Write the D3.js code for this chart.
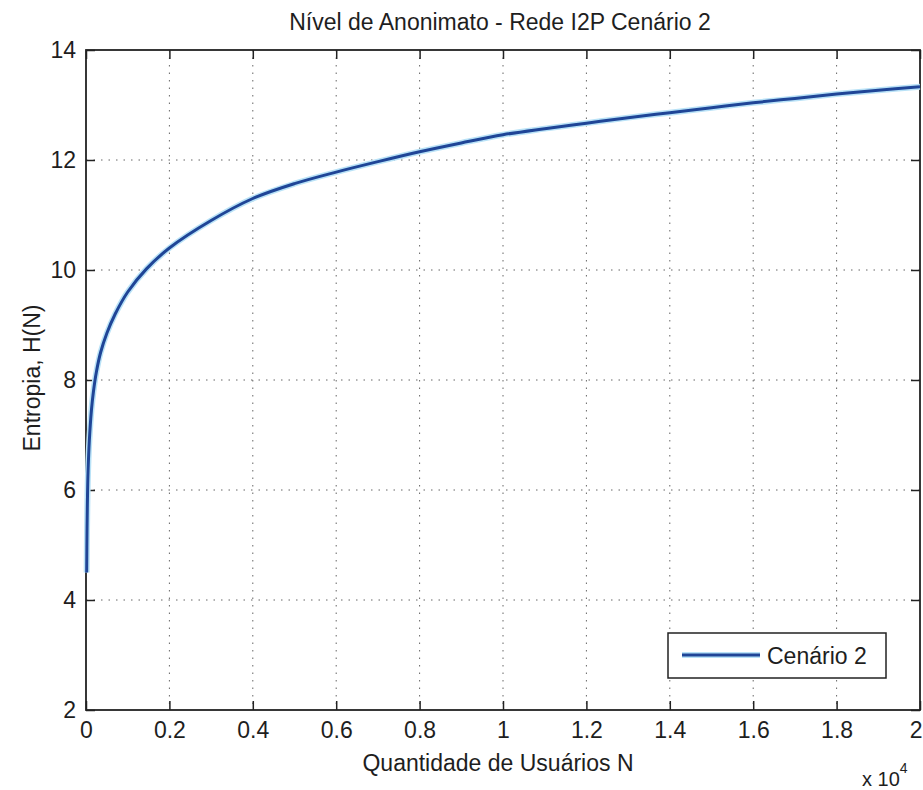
<!DOCTYPE html>
<html>
<head>
<meta charset="utf-8">
<script src="https://cdn.jsdelivr.net/npm/d3@7/dist/d3.min.js"></script>
<style>
  html, body { margin: 0; padding: 0; background: #fff; }
  svg text { font-family: "Liberation Sans", Arial, sans-serif; fill: #1e1e1e; }
</style>
</head>
<body>
<svg id="chart" width="923" height="790"></svg>
<script>
// ---- data ----
const usersN = [16, 25, 35, 50, 80, 130, 180, 250, 350, 500, 700, 1000, 1450, 2000, 3000, 4000, 5000, 6000, 7000, 8000, 9000, 10000, 11000, 12000, 13000, 14000, 15000, 16000, 17000, 18000, 19000, 20000];
const entropyH = [4.5, 5.3, 5.85, 6.35, 6.9, 7.45, 7.8, 8.15, 8.5, 8.85, 9.2, 9.6, 10.02, 10.4, 10.9, 11.3, 11.57, 11.78, 11.97, 12.15, 12.31, 12.46, 12.57, 12.67, 12.77, 12.86, 12.95, 13.04, 13.12, 13.2, 13.27, 13.33];
const xTickValues = [0, 2000, 4000, 6000, 8000, 10000, 12000, 14000, 16000, 18000, 20000];
const xTickLabels = ["0", "0.2", "0.4", "0.6", "0.8", "1", "1.2", "1.4", "1.6", "1.8", "2"];
const yTickValues = [2, 4, 6, 8, 10, 12, 14];
const seriesName = "Cenário 2";
const titleText = "Nível de Anonimato - Rede I2P Cenário 2";
const xLabelText = "Quantidade de Usuários N";
const yLabelText = "Entropia, H(N)";

// ---- layout ----
const L = 86, R = 920, T = 50, B = 710;
const svg = d3.select("#chart");
const x = d3.scaleLinear().domain([0, 20000]).range([L, R]);
const y = d3.scaleLinear().domain([2, 14]).range([B, T]);

// grid
const grid = svg.append("g").attr("stroke", "#666").attr("stroke-width", 1)
  .attr("stroke-dasharray", "1.5,6");
grid.selectAll("line.gx").data(xTickValues.slice(1, -1)).join("line")
  .attr("x1", d => x(d)).attr("x2", d => x(d)).attr("y1", T).attr("y2", B);
grid.selectAll("line.gy").data(yTickValues.slice(1, -1)).join("line")
  .attr("y1", d => y(d)).attr("y2", d => y(d)).attr("x1", L).attr("x2", R);

// axes
const fontSize = 23;
const xAxis = d3.axisBottom(x).tickValues(xTickValues)
  .tickFormat((d, i) => xTickLabels[i]).tickSizeInner(-9).tickSizeOuter(0).tickPadding(14);
const gx = svg.append("g").attr("transform", `translate(0,${B})`).call(xAxis);
const yAxis = d3.axisLeft(y).tickValues(yTickValues).tickSizeInner(-9).tickSizeOuter(0).tickPadding(10);
const gy = svg.append("g").attr("transform", `translate(${L},0)`).call(yAxis);
// top & right ticks
const xTop = d3.axisTop(x).tickValues(xTickValues).tickFormat("").tickSizeInner(-9).tickSizeOuter(0);
svg.append("g").attr("transform", `translate(0,${T})`).call(xTop);
const yRight = d3.axisRight(y).tickValues(yTickValues).tickFormat("").tickSizeInner(-9).tickSizeOuter(0);
svg.append("g").attr("transform", `translate(${R},0)`).call(yRight);
svg.selectAll(".domain").remove();
svg.selectAll(".tick line").attr("stroke", "#222").attr("stroke-width", 1.5);
[gx, gy].forEach(g => g.selectAll("text")
  .attr("font-size", fontSize).attr("fill", "#1e1e1e")
  .style("font-family", "'Liberation Sans', Arial, sans-serif"));
gx.selectAll("text").attr("dy", "0.6em");
// keep the last x label inside the page, as in the reference
gx.selectAll(".tick").filter(d => d === 20000).select("text")
  .attr("text-anchor", "end").attr("x", 922 - R);

// frame
svg.append("rect").attr("x", L).attr("y", T).attr("width", R - L).attr("height", B - T)
  .attr("fill", "none").attr("stroke", "#222").attr("stroke-width", 1.8);

// data line
const pts = usersN.map((n, i) => [n, entropyH[i]]);
const line = d3.line().x(d => x(d[0])).y(d => y(d[1])).curve(d3.curveCatmullRom.alpha(0.5));
svg.append("path").datum(pts).attr("d", line).attr("fill", "none")
  .attr("stroke", "#b9e2f7").attr("stroke-width", 6).attr("stroke-linejoin", "round");
svg.append("path").datum(pts).attr("d", line).attr("fill", "none")
  .attr("stroke", "#1f4597").attr("stroke-width", 3).attr("stroke-linejoin", "round");

// legend
const lg = svg.append("g");
lg.append("rect").attr("x", 668).attr("y", 633).attr("width", 218).attr("height", 45)
  .attr("fill", "#fff").attr("stroke", "#222").attr("stroke-width", 1.5);
lg.append("line").attr("x1", 682).attr("x2", 760).attr("y1", 655).attr("y2", 655)
  .attr("stroke", "#b9e2f7").attr("stroke-width", 6);
lg.append("line").attr("x1", 682).attr("x2", 760).attr("y1", 655).attr("y2", 655)
  .attr("stroke", "#1f4597").attr("stroke-width", 3);
lg.append("text").attr("x", 767).attr("y", 664).attr("font-size", fontSize).text(seriesName);

// titles
svg.append("text").attr("x", 500).attr("y", 30).attr("text-anchor", "middle")
  .attr("font-size", 23).text(titleText);
svg.append("text").attr("x", 498).attr("y", 771).attr("text-anchor", "middle")
  .attr("font-size", fontSize).text(xLabelText);
svg.append("text").attr("transform", "translate(40,378) rotate(-90)").attr("text-anchor", "middle")
  .attr("font-size", fontSize).text(yLabelText);
// exponent
const ex = svg.append("text").attr("x", 862).attr("y", 786).attr("font-size", 20);
ex.append("tspan").text("x 10");
ex.append("tspan").attr("dy", -13).attr("font-size", 14).text("4");
</script>
</body>
</html>
